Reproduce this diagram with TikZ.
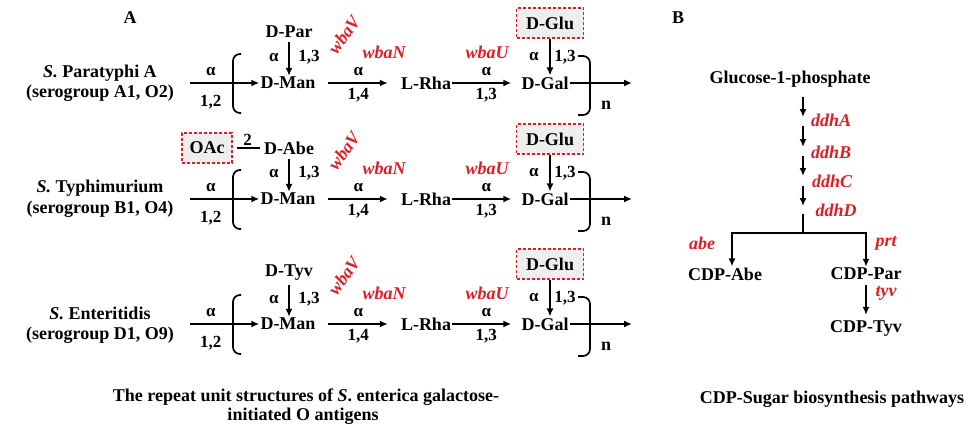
\documentclass[tikz,border=0pt]{standalone}
\usepackage{fontspec}
\setmainfont{Liberation Serif}
\usetikzlibrary{arrows.meta}
\definecolor{gred}{RGB}{222,30,36}
\definecolor{boxgray}{RGB}{238,238,238}
\begin{document}
\begin{tikzpicture}[x=1pt,y=-1pt,
  every node/.style={font=\fontsize{18}{20}\selectfont\bfseries, inner sep=1pt},
  gene/.style={text=gred, font=\fontsize{18}{20}\selectfont\bfseries\itshape},
  arr/.style={line width=1.7pt, -{Latex[length=8pt,width=7pt]}},
  ln/.style={line width=1.7pt},
  sbox/.style={draw=gred, dashed, dash pattern=on 3pt off 2pt, fill=boxgray, line width=1.1pt, inner xsep=5pt, minimum height=30pt, minimum width=67pt},
  lab/.style={font=\fontsize{17}{19}\selectfont\bfseries, inner sep=0.5pt},
  brk/.style={line width=1.7pt, rounded corners=7pt}]
\useasboundingbox (0,0) rectangle (979,426);

% ---------------- Panel A ----------------
\node (lblA) at (130,18) {A};

% species labels
\node (sp1a) at (100,73) {\textit{S.} Paratyphi A};
\node (sp1b) at (100,93) {(serogroup A1, O2)};
\node (sp2a) at (100,188) {\textit{S.} Typhimurium};
\node (sp2b) at (100,209) {(serogroup B1, O4)};
\node (sp3a) at (100,313) {\textit{S.} Enteritidis};
\node (sp3b) at (100,335) {(serogroup D1, O9)};

\foreach \r/\y/\sug in {1/83/D-Par, 2/199/D-Abe, 3/324/D-Tyv}{
  \node (man\r) at (288,\y) {D-Man};
  \node (rha\r) at (426,\y) {L-Rha};
  \node (gal\r) at (545,\y) {D-Gal};
  \node (side\r) at (289,\y-51) {\sug};
  \node[sbox] (glu\r) at (550,\y-60) {D-Glu};
  \coordinate (in\r) at (190,\y);
  \coordinate (out\r) at (632,\y);
  % main chain
  \draw[arr] (in\r) -- node[pos=0.3, above=6pt, lab]{α} node[pos=0.3, below=11pt, lab]{1,2} (man\r.west);
  \draw[arr, shorten <=11pt, shorten >=12pt] (man\r.east) -- node[above=6pt, lab]{α} node[below=4pt, lab]{1,4} (rha\r.west);
  \draw[arr, shorten >=9pt] (rha\r.east) -- node[above=6pt, lab]{α} node[below=4pt, lab]{1,3} (gal\r.west);
  \draw[arr] (gal\r.east) -- (out\r);
  % side branches
  \draw[arr, shorten <=3pt] (side\r.south) -- node[left=9pt, lab]{α} node[right=8pt, lab]{1,3} (side\r.south |- man\r.north);
  \draw[arr] (glu\r.south) -- node[left=10pt, lab]{α} node[right=3pt, lab]{1,3} (glu\r.south |- gal\r.north);
  % brackets
  \draw[brk] (241,\y-29) -- (233,\y-29) -- (233,\y+30) -- (241,\y+30);
  \draw[brk] (578,\y-27) -- (590,\y-27) -- (590,\y+32) -- (578,\y+32);
  \node (n\r) at (606,\y+22) {n};
  % genes
  \node[gene, rotate=55] (wv\r) at (344,\y-48) {wbaV};
  \node[gene] (wn\r) at (384,\y-31) {wbaN};
  \node[gene] (wu\r) at (487,\y-31) {wbaU};
}

% O-acetyl on abequose
\node[sbox, minimum width=50pt] (oac) at (207,148) {OAc};
\draw[ln, shorten <=4pt, shorten >=3pt] (oac.east) -- node[above=1pt, lab]{2} (side2.west);

% captions
\node (capA1) at (306,397) {The repeat unit structures of \textit{S}. enterica galactose-};
\node (capA2) at (303,416) {initiated O antigens};

% ---------------- Panel B ----------------
\node (lblB) at (678,18) {B};
\node (g1p) at (790,79) {Glucose-1-phosphate};
\coordinate (a1s) at (803,97);  \coordinate (a1e) at (803,117);
\coordinate (a2s) at (803,126); \coordinate (a2e) at (803,147);
\coordinate (a3s) at (803,156); \coordinate (a3e) at (803,176);
\coordinate (a4s) at (803,186); \coordinate (a4e) at (803,206);
\draw[arr] (a1s) -- (a1e);
\draw[arr] (a2s) -- (a2e);
\draw[arr] (a3s) -- (a3e);
\draw[arr] (a4s) -- (a4e);
\node[gene] (ddhA) at (831,120) {ddhA};
\node[gene] (ddhB) at (831,152) {ddhB};
\node[gene] (ddhC) at (832,181) {ddhC};
\node[gene] (ddhD) at (836,210) {ddhD};
\coordinate (stem) at (803,214);
\coordinate (fork) at (803,233);
\node (abe) at (725,274) {CDP-Abe};
\node (par) at (866,274) {CDP-Par};
\node (tyv) at (866,328) {CDP-Tyv};
\draw[ln] (stem) -- (fork);
\draw[arr] (fork) -| ([xshift=7pt]abe.north);
\draw[arr] (fork) -| (par.north);
\draw[arr, shorten <=4pt, shorten >=4pt] (par.south) -- (tyv.north);
\node[gene] (abeg) at (702,243) {abe};
\node[gene] (prtg) at (886,243) {prt};
\node[gene] (tyvg) at (886,293) {tyv};
\node (capB) at (832,399) {CDP-Sugar biosynthesis pathways};
\end{tikzpicture}
\end{document}
